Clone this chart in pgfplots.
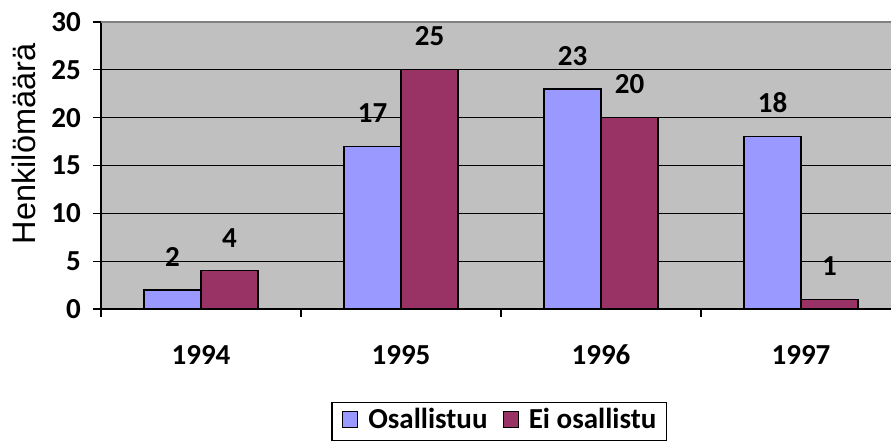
\documentclass[border=0pt]{standalone}
\usepackage{fontspec}
\setmainfont{Carlito}
\newfontfamily\arialfont{Liberation Sans}
\usepackage{pgfplots}
\pgfplotsset{compat=1.18}
\definecolor{barblue}{HTML}{9999FF}
\definecolor{barred}{HTML}{993366}
\definecolor{plotbg}{HTML}{C0C0C0}
\definecolor{bordergray}{HTML}{808080}
\newcommand{\lblfont}{\bfseries\fontsize{29}{33}\selectfont}
\begin{document}
\begin{tikzpicture}
\begin{axis}[
  scale only axis, width=790pt, height=287pt,
  at={(0pt,0pt)}, anchor=south west,
  xmin=-0.5, xmax=3.45, ymin=0, ymax=30,
  axis x line*=bottom, axis y line*=left,
  axis line style={line width=1.3pt, -},
  /pgf/number format/assume math mode=true,
  ytick={0,5,...,30},
  yticklabel style={font=\lblfont, inner sep=0pt, xshift=-12pt},
  xtick={-0.5,0.5,1.5,2.5}, xticklabels={},
  extra x ticks={0,1,2,3},
  extra x tick labels={1994,1995,1996,1997},
  extra x tick style={major tick length=0pt, xticklabel style={font=\lblfont, inner sep=0pt, yshift=-36pt}},
  tick style={black, line width=1.3pt},
  tick align=outside,
  major tick length=8pt,
  ymajorgrids, major grid style={black, line width=1.3pt},
  axis background/.style={fill=plotbg},
  ybar=0pt, bar width=57pt,
  nodes near coords,
  nodes near coords style={font=\lblfont, anchor=south, inner sep=0pt, yshift=23pt},
  ylabel={Henkilömäärä},
  ylabel style={font=\arialfont\fontsize{32.5}{36}\selectfont, at={(axis description cs:-0.0975,0.575)}, anchor=center},
  legend columns=2,
  legend style={at={(axis description cs:0.504,-0.324)}, anchor=north, draw=black, line width=1.3pt, font=\lblfont,
    inner xsep=10pt, inner ysep=6pt,
    nodes={inner sep=0pt, text height=20pt, text depth=6pt},
    /tikz/every odd column/.append style={column sep=10pt},
    /tikz/every even column/.append style={column sep=15pt}},
  legend image code/.code={\draw[#1, line width=1.3pt] (0pt,-6pt) rectangle (15pt,10pt);},
]
\addplot[fill=barblue, draw=black, line width=1.3pt] coordinates {(0,2) (1,17) (2,23) (3,18)};
\addplot[fill=barred, draw=black, line width=1.3pt] coordinates {(0,4) (1,25) (2,20) (3,1)};
\legend{Osallistuu, Ei osallistu}
\draw[bordergray, line width=1.3pt] (rel axis cs:0,1) -- (rel axis cs:1,1);
\end{axis}
\pgfresetboundingbox
\useasboundingbox (-101pt,-138pt) rectangle (790pt,309pt);
\end{tikzpicture}
\end{document}
